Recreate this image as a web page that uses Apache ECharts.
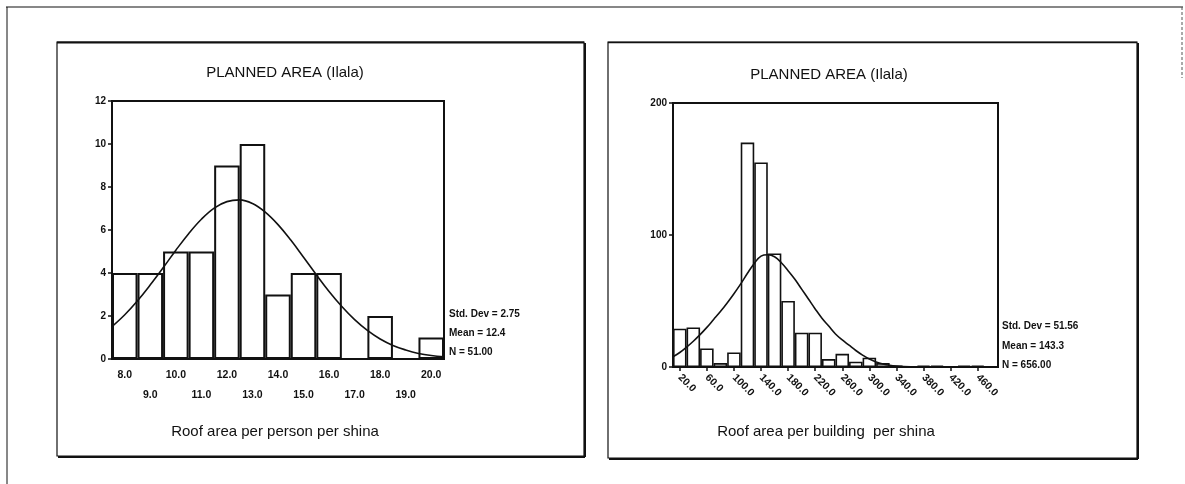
<!DOCTYPE html>
<html>
<head>
<meta charset="utf-8">
<script src="https://cdn.jsdelivr.net/npm/echarts@6/dist/echarts.min.js"></script>
<style>
  html, body { margin: 0; padding: 0; background: #fff; }
  #chart { width: 1185px; height: 484px; }
</style>
</head>
<body>
<div id="chart"></div>
<script>
// Left histogram: roof area per person per shina (bins of width 1, centred on the label)
const leftBins = ['8.0', '9.0', '10.0', '11.0', '12.0', '13.0', '14.0', '15.0', '16.0', '17.0', '18.0', '19.0', '20.0'];
const leftCounts = [4, 4, 5, 5, 9, 10, 3, 4, 4, 0, 2, 0, 1];
// Fitted normal curve, [value, frequency]
const leftCurve = [
  [7.5, 1.51], [8.0, 2.06], [8.5, 2.71], [9.0, 3.45], [9.5, 4.24], [10.0, 5.06], [10.5, 5.83],
  [11.0, 6.50], [11.5, 7.02], [12.0, 7.32], [12.5, 7.40], [13.0, 7.23], [13.5, 6.83], [14.0, 6.25],
  [14.5, 5.53], [15.0, 4.73], [15.5, 3.92], [16.0, 3.14], [16.5, 2.44], [17.0, 1.83], [17.5, 1.33],
  [18.0, 0.93], [18.5, 0.63], [19.0, 0.42], [19.5, 0.26], [20.0, 0.16], [20.5, 0.10]
];
const leftStats = ['Std. Dev = 2.75', 'Mean = 12.4', 'N = 51.00'];
const leftYTicks = [0, 12, 2];

// Right histogram: roof area per building per shina (bins of width 20)
const rightBins = ['20.0', '40.0', '60.0', '80.0', '100.0', '120.0', '140.0', '160.0', '180.0', '200.0',
  '220.0', '240.0', '260.0', '280.0', '300.0', '320.0', '340.0', '360.0', '380.0', '400.0',
  '420.0', '440.0', '460.0', '480.0'];
const rightCounts = [29, 30, 14, 3, 11, 170, 155, 86, 50, 26, 26, 6, 10, 4, 7, 3, 1, 0, 1, 1, 0, 1, 1, 0];
const rightCurve = [
  [10, 7.8], [20, 11], [30, 15], [40, 19.5], [50, 24.5], [60, 30], [70, 36], [80, 42], [90, 48.5],
  [100, 55.5], [110, 63], [120, 71], [130, 78.5], [140, 84], [150, 85], [160, 83.5], [170, 79],
  [180, 73], [190, 66.5], [200, 59], [210, 51.5], [220, 44], [230, 37], [240, 31], [250, 25],
  [260, 20.5], [270, 16.5], [280, 12.5], [290, 9], [300, 6], [310, 3.8], [320, 2.3], [330, 1.3],
  [340, 0.7], [350, 0.4], [370, 0.1], [400, 0], [490, 0]
];
const rightStats = ['Std. Dev = 51.56', 'Mean = 143.3', 'N = 656.00'];
const rightYTicks = [0, 200, 100];

const titles = ['PLANNED AREA (Ilala)', 'PLANNED AREA (Ilala)'];
const axisNames = ['Roof area per person per shina', 'Roof area per building  per shina'];

const FONT = '"Liberation Sans", Arial, sans-serif';
const INK = '#111';

const chart = echarts.init(document.getElementById('chart'), null, { renderer: 'canvas' });

function statText(lines, x, ys) {
  return lines.map((t, i) => ({
    type: 'text', left: x, top: ys[i] - 6,
    style: { text: t, font: 'bold 10px ' + FONT, fill: INK }
  }));
}

function centeredText(t, cx, cy, font) {
  return {
    type: 'text', x: cx, y: cy,
    style: { text: t, font: font, fill: INK, align: 'center', verticalAlign: 'middle' }
  };
}

const yAxisCommon = {
  type: 'value',
  splitLine: { show: false },
  axisLine: { show: true, lineStyle: { color: INK, width: 2 } },
  axisTick: { show: true, length: 4, lineStyle: { color: INK, width: 1.5 } },
  axisLabel: { color: INK, fontFamily: FONT, fontSize: 10, fontWeight: 'bold', margin: 6 }
};

const option = {
  backgroundColor: '#fff',
  animation: false,
  grid: [
    { left: 112, top: 101, width: 332, height: 258, show: true, borderColor: INK, borderWidth: 2, backgroundColor: 'transparent' },
    { left: 673, top: 103, width: 325, height: 264, show: true, borderColor: INK, borderWidth: 2, backgroundColor: 'transparent' }
  ],
  xAxis: [
    {
      type: 'category', gridIndex: 0, data: leftBins, boundaryGap: true,
      axisLine: { show: true, lineStyle: { color: INK, width: 2 } },
      axisTick: { show: false },
      axisLabel: {
        interval: 0, color: INK, fontFamily: FONT, fontSize: 10.5, fontWeight: 'bold',
        margin: 6, lineHeight: 20,
        formatter: (v, i) => (i % 2 ? '\n' + v : v)
      }
    },
    { type: 'value', gridIndex: 0, min: 7.5, max: 20.5, show: false },
    {
      type: 'category', gridIndex: 1, data: rightBins, boundaryGap: true,
      axisLine: { show: true, lineStyle: { color: INK, width: 2 } },
      axisTick: { show: true, interval: 1, alignWithLabel: true, length: 4, lineStyle: { color: INK, width: 1.5 } },
      axisLabel: {
        interval: 1, rotate: -45, color: INK, fontFamily: FONT, fontSize: 10.5, fontWeight: 'bold', margin: 9
      }
    },
    { type: 'value', gridIndex: 1, min: 10, max: 490, show: false }
  ],
  yAxis: [
    Object.assign({}, yAxisCommon, { gridIndex: 0, min: leftYTicks[0], max: leftYTicks[1], interval: leftYTicks[2] }),
    Object.assign({}, yAxisCommon, { gridIndex: 1, min: rightYTicks[0], max: rightYTicks[1], interval: rightYTicks[2] })
  ],
  series: [
    {
      type: 'bar', xAxisIndex: 0, yAxisIndex: 0, data: leftCounts,
      barCategoryGap: '0%',
      itemStyle: { color: '#fff', borderColor: INK, borderWidth: 2 }
    },
    {
      type: 'line', xAxisIndex: 1, yAxisIndex: 0, data: leftCurve,
      smooth: 0.4, showSymbol: false, symbol: 'none',
      lineStyle: { color: INK, width: 1.6 }, z: 5
    },
    {
      type: 'bar', xAxisIndex: 2, yAxisIndex: 1, data: rightCounts,
      barCategoryGap: '0%',
      itemStyle: { color: '#fff', borderColor: INK, borderWidth: 1.6 }
    },
    {
      type: 'line', xAxisIndex: 3, yAxisIndex: 1, data: rightCurve,
      smooth: 0.4, showSymbol: false, symbol: 'none',
      lineStyle: { color: INK, width: 1.6 }, z: 5
    }
  ],
  graphic: [
    // outer page frame
    { type: 'line', shape: { x1: 6, y1: 7, x2: 1183, y2: 7 }, style: { stroke: INK, lineWidth: 1.2 } },
    { type: 'line', shape: { x1: 7, y1: 7, x2: 7, y2: 484 }, style: { stroke: INK, lineWidth: 1 } },
    { type: 'line', shape: { x1: 1182, y1: 7, x2: 1182, y2: 78 }, style: { stroke: '#555', lineWidth: 1, lineDash: [3, 2] } },
    // panel boxes with a heavier lower-right edge
    { type: 'rect', shape: { x: 57, y: 42, width: 527, height: 414 }, style: { fill: 'none', stroke: INK, lineWidth: 1.2 } },
    { type: 'line', shape: { x1: 58, y1: 457, x2: 585, y2: 457 }, style: { stroke: INK, lineWidth: 2 } },
    { type: 'line', shape: { x1: 585, y1: 43, x2: 585, y2: 457 }, style: { stroke: INK, lineWidth: 2 } },
    { type: 'line', shape: { x1: 57, y1: 42.5, x2: 584, y2: 42.5 }, style: { stroke: INK, lineWidth: 2 } },
    { type: 'rect', shape: { x: 608, y: 42, width: 529, height: 416 }, style: { fill: 'none', stroke: INK, lineWidth: 1.2 } },
    { type: 'line', shape: { x1: 609, y1: 459, x2: 1138, y2: 459 }, style: { stroke: INK, lineWidth: 2 } },
    { type: 'line', shape: { x1: 1138, y1: 43, x2: 1138, y2: 459 }, style: { stroke: INK, lineWidth: 2 } },
    { type: 'line', shape: { x1: 608, y1: 42.5, x2: 1137, y2: 42.5 }, style: { stroke: INK, lineWidth: 1.6 } },
    // titles and axis captions
    centeredText(titles[0], 285, 73, '15px ' + FONT),
    centeredText(titles[1], 829, 75, '15px ' + FONT),
    centeredText(axisNames[0], 275, 432, '15px ' + FONT),
    centeredText(axisNames[1], 826, 432, '15px ' + FONT)
  ]
    .concat(statText(leftStats, 449, [315, 334, 353]))
    .concat(statText(rightStats, 1002, [327, 347, 366]))
};

chart.setOption(option);
</script>
</body>
</html>
